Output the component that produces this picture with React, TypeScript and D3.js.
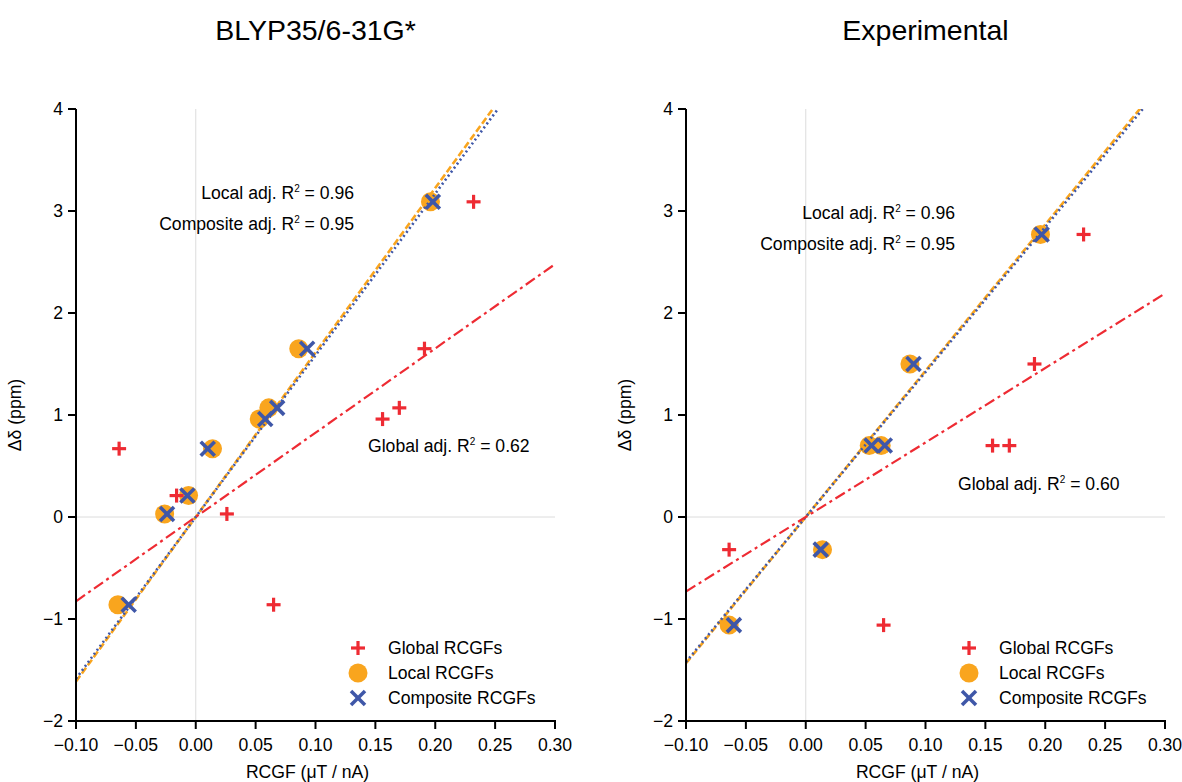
import React from "react";
import * as d3 from "d3";

// shared y values (Δδ, ppm) per fragment
const deltaCalc = [3.09, 1.65, 1.07, 0.96, 0.67, 0.21, 0.03, -0.86];
const deltaExp = [2.77, 1.5, 0.7, 0.7, -0.32, -1.06];

// RCGF x values (μT / nA)
const globalCalc = [0.232, 0.191, 0.17, 0.156, -0.064, -0.016, 0.026, 0.065];
const localCalc = [0.196, 0.086, 0.061, 0.053, 0.014, -0.006, -0.026, -0.065];
const compositeCalc = [0.198, 0.093, 0.068, 0.058, 0.01, -0.007, -0.024, -0.056];

const globalExp = [0.232, 0.191, 0.17, 0.156, -0.064, 0.065];
const localExp = [0.196, 0.087, 0.063, 0.053, 0.014, -0.064];
const compositeExp = [0.197, 0.09, 0.066, 0.055, 0.0125, -0.06];

const titles = ["BLYP35/6-31G*", "Experimental"];
const r2Local = ["0.96", "0.96"];
const r2Composite = ["0.95", "0.95"];
const r2Global = ["0.62", "0.60"];
const xTicks = [-0.1, -0.05, 0, 0.05, 0.1, 0.15, 0.2, 0.25, 0.3];
const yTicks = [-2, -1, 0, 1, 2, 3, 4];
const legendLabels = ["Global RCGFs", "Local RCGFs", "Composite RCGFs"];

const RED = "#ee2b33";
const ORANGE = "#f9a51e";
const BLUE = "#3f57a8";
const FONT = "'Liberation Sans', Arial, sans-serif";
const FS = 17.6;

// least squares slope through the origin
const slope = (xs: number[], ys: number[]) =>
  d3.sum(xs, (x, i) => x * ys[i]) / d3.sum(xs, (x) => x * x);

const Plus = ({ x, y }: { x: number; y: number }) => (
  <g stroke={RED} strokeWidth={3.2}>
    <line x1={x - 7} x2={x + 7} y1={y} y2={y} />
    <line x1={x} x2={x} y1={y - 7} y2={y + 7} />
  </g>
);

const Cross = ({ x, y }: { x: number; y: number }) => (
  <g stroke={BLUE} strokeWidth={3.6}>
    <line x1={x - 7} x2={x + 7} y1={y - 7} y2={y + 7} />
    <line x1={x - 7} x2={x + 7} y1={y + 7} y2={y - 7} />
  </g>
);

type PanelProps = {
  id: number;
  left: number;
  ys: number[];
  gx: number[];
  lx: number[];
  cx: number[];
  r2: string[];
  textPos: { lx: number; ly: number; gx: number; gy: number };
  legendX: number;
};

const Sup = ({ label, value }: { label: string; value: string }) => (
  <>
    {label} adj. R<tspan fontSize={10} dy={-7}>2</tspan>
    <tspan dy={7}> = {value}</tspan>
  </>
);

const Panel = ({ id, left, ys, gx, lx, cx, r2, textPos, legendX }: PanelProps) => {
  const w = 479;
  const x = d3.scaleLinear().domain([-0.1, 0.3]).range([left, left + w]);
  const y = d3.scaleLinear().domain([-2, 4]).range([721, 109]);
  const cxm = (left + left + w) / 2;

  const fits = [
    { s: slope(lx, ys), color: ORANGE, dash: "7,3", width: 2.6 },
    { s: slope(cx, ys), color: BLUE, dash: "2,3", width: 2.6 },
    { s: slope(gx, ys), color: RED, dash: "11,4,3,4", width: 2.2 },
  ];
  const line = d3
    .line<number[]>()
    .x((d) => x(d[0]))
    .y((d) => y(d[1]));

  return (
    <g fontFamily={FONT}>
      <defs>
        <clipPath id={`clip${id}`}>
          <rect x={left} y={109} width={w} height={612} />
        </clipPath>
      </defs>
      <text x={cxm} y={40} textAnchor="middle" fontSize={28.5}>
        {titles[id]}
      </text>
      {/* zero gridlines */}
      <line x1={x(0)} x2={x(0)} y1={y(4)} y2={y(-2)} stroke="#dcdcdc" strokeWidth={1} />
      <line x1={left} x2={left + w} y1={y(0)} y2={y(0)} stroke="#dcdcdc" strokeWidth={1} />

      {lx.map((v, i) => (
        <circle key={i} cx={x(v)} cy={y(ys[i])} r={9.5} fill={ORANGE} />
      ))}

      <g clipPath={`url(#clip${id})`}>
        {fits.map((f, i) => (
          <path
            key={i}
            d={line([
              [-0.1, -0.1 * f.s],
              [0.3, 0.3 * f.s],
            ]) as string}
            fill="none"
            stroke={f.color}
            strokeWidth={f.width}
            strokeDasharray={f.dash}
          />
        ))}
      </g>

      {gx.map((v, i) => (
        <Plus key={i} x={x(v)} y={y(ys[i])} />
      ))}
      {cx.map((v, i) => (
        <Cross key={i} x={x(v)} y={y(ys[i])} />
      ))}

      {/* axes */}
      <line x1={left} x2={left} y1={y(4)} y2={y(-2) + 1} stroke="#000" strokeWidth={2} />
      <line x1={left - 1} x2={left + w + 1} y1={y(-2)} y2={y(-2)} stroke="#000" strokeWidth={2} />
      {yTicks.map((t) => (
        <g key={t}>
          <line x1={left - 8} x2={left} y1={y(t)} y2={y(t)} stroke="#000" strokeWidth={2} />
          <text x={left - 13} y={y(t)} dy="0.35em" textAnchor="end" fontSize={FS}>
            {d3.format("d")(t)}
          </text>
        </g>
      ))}
      {xTicks.map((t) => (
        <g key={t}>
          <line x1={x(t)} x2={x(t)} y1={y(-2)} y2={y(-2) + 8} stroke="#000" strokeWidth={2} />
          <text x={x(t)} y={y(-2) + 30} textAnchor="middle" fontSize={FS}>
            {d3.format(".2f")(t)}
          </text>
        </g>
      ))}
      <text x={cxm - 8} y={778} textAnchor="middle" fontSize={FS}>
        RCGF (μT / nA)
      </text>
      <text
        transform={`translate(${left - 55},${y(1)}) rotate(-90)`}
        textAnchor="middle"
        fontSize={FS}
      >
        Δδ (ppm)
      </text>

      {/* R² annotations */}
      <text x={textPos.lx} y={textPos.ly} textAnchor="end" fontSize={FS}>
        <Sup label="Local" value={r2[0]} />
      </text>
      <text x={textPos.lx} y={textPos.ly + 31} textAnchor="end" fontSize={FS}>
        <Sup label="Composite" value={r2[1]} />
      </text>
      <text x={textPos.gx} y={textPos.gy} fontSize={FS}>
        <Sup label="Global" value={r2[2]} />
      </text>

      {/* legend */}
      <Plus x={legendX} y={648} />
      <circle cx={legendX} cy={673} r={9.5} fill={ORANGE} />
      <Cross x={legendX} y={698} />
      {legendLabels.map((l, i) => (
        <text key={l} x={legendX + 30} y={648 + i * 25} dy="0.35em" fontSize={FS}>
          {l}
        </text>
      ))}
    </g>
  );
};

export default function App() {
  return (
    <svg
      width={1182}
      height={782}
      style={{ position: "absolute", left: 0, top: 0, background: "#fff" }}
    >
      <Panel
        id={0}
        left={76}
        ys={deltaCalc}
        gx={globalCalc}
        lx={localCalc}
        cx={compositeCalc}
        r2={[r2Local[0], r2Composite[0], r2Global[0]]}
        textPos={{ lx: 354, ly: 199, gx: 368, gy: 452 }}
        legendX={358}
      />
      <Panel
        id={1}
        left={686}
        ys={deltaExp}
        gx={globalExp}
        lx={localExp}
        cx={compositeExp}
        r2={[r2Local[1], r2Composite[1], r2Global[1]]}
        textPos={{ lx: 955, ly: 219, gx: 958, gy: 490 }}
        legendX={969}
      />
    </svg>
  );
}
